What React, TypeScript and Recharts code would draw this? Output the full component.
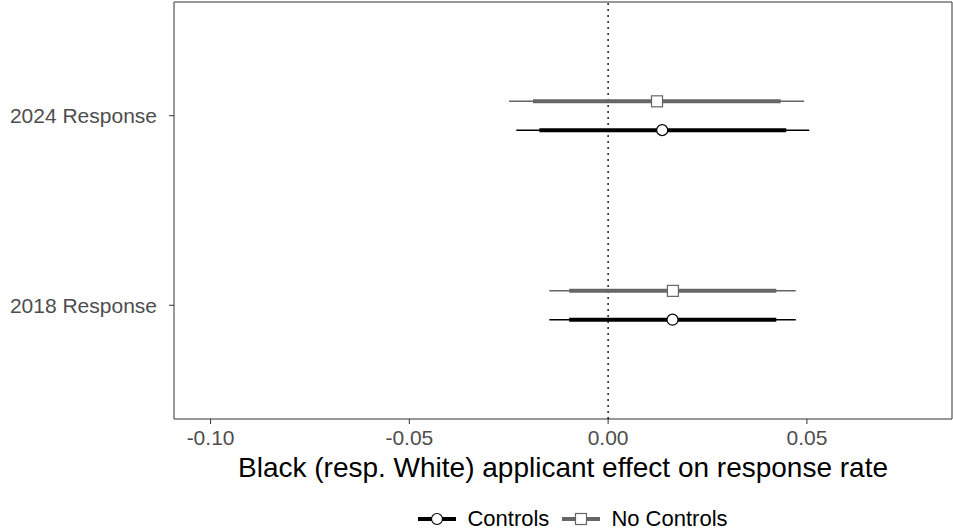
import {
  ComposedChart,
  Scatter,
  ErrorBar,
  XAxis,
  YAxis,
  ReferenceLine,
  ReferenceArea,
  Legend,
} from 'recharts';

// categories on the y axis (1 = bottom, 2 = top)
const categories = ['2018 Response', '2024 Response'];
const catPos = [1, 2];

// point estimates and confidence bounds (95% thin, 90% thick)
const controlsEst = [0.0162, 0.0136];
const controlsLo95 = [-0.0148, -0.0231];
const controlsHi95 = [0.0472, 0.0506];
const controlsLo90 = [-0.0098, -0.0173];
const controlsHi90 = [0.0423, 0.0448];

const noControlsEst = [0.0163, 0.0123];
const noControlsLo95 = [-0.0148, -0.0249];
const noControlsHi95 = [0.0472, 0.0493];
const noControlsLo90 = [-0.0098, -0.0189];
const noControlsHi90 = [0.0423, 0.0434];

const xTicks = [-0.1, -0.05, 0, 0.05];
const DODGE = 0.076;

const build = (est: number[], lo95: number[], hi95: number[], lo90: number[], hi90: number[], shift: number) =>
  est.map((e, i) => ({
    x: e,
    y: catPos[i] + shift,
    ci95: [e - lo95[i], hi95[i] - e],
    ci90: [e - lo90[i], hi90[i] - e],
  }));

const controlsData = build(controlsEst, controlsLo95, controlsHi95, controlsLo90, controlsHi90, -DODGE);
const noControlsData = build(noControlsEst, noControlsLo95, noControlsHi95, noControlsLo90, noControlsHi90, DODGE);

const GREY = '#666666';
const FONT = 'Liberation Sans, Arial, Helvetica, sans-serif';

const CircleDot = (p: any) => (
  <circle cx={p.cx} cy={p.cy} r={5.5} fill="#fff" stroke="#000" strokeWidth={1.2} />
);
const SquareDot = (p: any) => (
  <rect x={p.cx - 5.5} y={p.cy - 5.5} width={11} height={11} fill="#fff" stroke={GREY} strokeWidth={1.2} />
);

function LegendRow() {
  const item = (color: string, label: string, square: boolean, gap: number) => (
    <div style={{ display: 'flex', alignItems: 'center', marginRight: gap }}>
      <svg width={38} height={14}>
        <line x1={0} y1={7} x2={38} y2={7} stroke={color} strokeWidth={4} />
        {square ? (
          <rect x={13.5} y={1.5} width={11} height={11} fill="#fff" stroke={GREY} strokeWidth={1.2} />
        ) : (
          <circle cx={19} cy={7} r={5.5} fill="#fff" stroke="#000" strokeWidth={1.2} />
        )}
      </svg>
      <span style={{ marginLeft: 11, fontSize: 22, color: '#000', lineHeight: '24px' }}>{label}</span>
    </div>
  );
  return (
    <div style={{ display: 'flex', justifyContent: 'center', fontFamily: FONT, paddingLeft: 194 }}>
      {item('#000', 'Controls', false, 13)}
      {item(GREY, 'No Controls', true, 0)}
    </div>
  );
}

export default function App() {
  return (
    <div style={{ position: 'absolute', left: 0, top: 0, fontFamily: FONT }}>
      <ComposedChart width={953} height={531} margin={{ top: 2, right: 1, left: 0, bottom: 0 }}>
        <XAxis
          type="number"
          dataKey="x"
          domain={[-0.1092, 0.0865]}
          allowDataOverflow
          ticks={xTicks}
          tickFormatter={(v: number) => v.toFixed(2)}
          tick={{ fill: '#4d4d4d', fontSize: 21, fontFamily: FONT }}
          tickSize={5}
          tickMargin={6}
          axisLine={false}
          tickLine={{ stroke: '#333' }}
          height={88}
          label={{ value: 'Black (resp. White) applicant effect on response rate', position: 'insideBottom', offset: 30, fill: '#000', fontSize: 28, fontFamily: FONT }}
        />
        <YAxis
          type="number"
          dataKey="y"
          domain={[0.4, 2.6]}
          ticks={catPos}
          tickFormatter={(v: number) => categories[v - 1]}
          tick={{ fill: '#4d4d4d', fontSize: 21, fontFamily: FONT }}
          tickSize={5}
          tickMargin={12}
          axisLine={false}
          tickLine={{ stroke: '#333' }}
          width={174}
        />
        <ReferenceArea x1={-0.1092} x2={0.0865} y1={0.4} y2={2.6} fill="none" stroke="#333" strokeWidth={1} ifOverflow="visible" />
        <ReferenceLine x={0} stroke="#000" strokeDasharray="2 4" strokeWidth={1.3} />
        <Scatter data={noControlsData} shape={SquareDot} isAnimationActive={false} name="No Controls">
          <ErrorBar dataKey="ci95" direction="x" width={0} stroke={GREY} strokeWidth={1.5} isAnimationActive={false} />
          <ErrorBar dataKey="ci90" direction="x" width={0} stroke={GREY} strokeWidth={4} isAnimationActive={false} />
        </Scatter>
        <Scatter data={controlsData} shape={CircleDot} isAnimationActive={false} name="Controls">
          <ErrorBar dataKey="ci95" direction="x" width={0} stroke="#000" strokeWidth={1.5} isAnimationActive={false} />
          <ErrorBar dataKey="ci90" direction="x" width={0} stroke="#000" strokeWidth={4} isAnimationActive={false} />
        </Scatter>
        <Legend verticalAlign="bottom" height={24} content={() => <LegendRow />} />
      </ComposedChart>
    </div>
  );
}
